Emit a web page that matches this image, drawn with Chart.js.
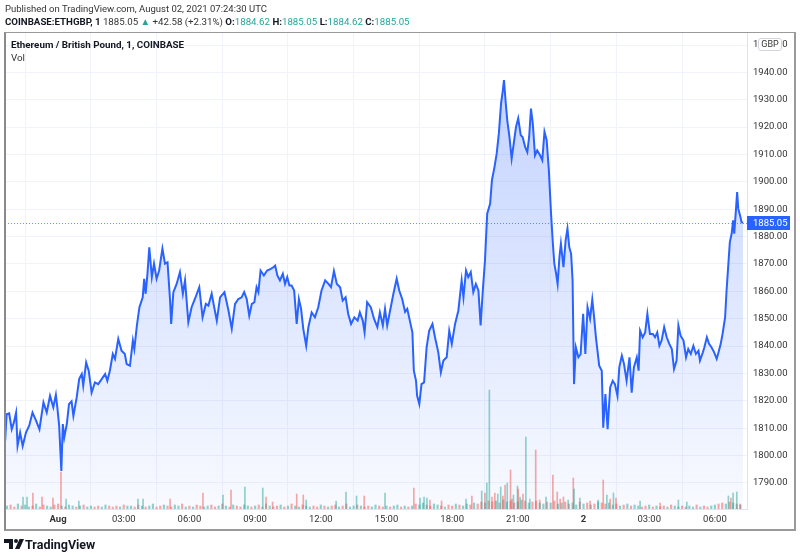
<!DOCTYPE html>
<html><head><meta charset="utf-8">
<script src="https://cdn.jsdelivr.net/npm/chart.js@4.4.0/dist/chart.umd.min.js"></script>
<style>
html,body{margin:0;padding:0;background:#fff;}
#wrap{position:relative;width:800px;height:558px;overflow:hidden;font-family:Roboto,"Noto Sans",sans-serif;color:#131722;background:#fff;}
#c{position:absolute;left:0;top:0;}
.txt{position:absolute;white-space:nowrap;}
#h1{left:5px;top:3px;font-size:9.5px;color:#333;}
#h2{left:5px;top:16px;font-size:9.7px;color:#333;}
#h2 b{color:#131722;}
.t{color:#26a69a;}
#title{left:11px;top:39px;font-size:9.8px;font-weight:bold;}
#vol{left:11px;top:52px;font-size:9.8px;color:#333;}
#frame{position:absolute;left:4px;top:32px;width:792px;height:499px;border:1px solid #9a9a9a;border-left:2px solid #8a8a8a;border-bottom:2px solid #9a9a9a;border-right:2px solid #9a9a9a;box-sizing:border-box;pointer-events:none;}
#gbp{position:absolute;left:758px;top:38px;width:24px;height:13px;border:1px solid #d1d4dc;border-radius:3px;background:#fff;font-size:9px;line-height:11px;text-align:center;color:#333;box-sizing:border-box;}
#logo{position:absolute;left:4px;top:539px;}
#brand{left:25px;top:537px;font-size:12.5px;font-weight:bold;color:#131722;}
</style></head>
<body>
<div id="wrap">
<canvas id="c" width="800" height="558"></canvas>
<div class="txt" id="h1">Published on TradingView.com, August 02, 2021 07:24:30 UTC</div>
<div class="txt" id="h2"><b>COINBASE:ETHGBP, 1</b> 1885.05 <span class="t">▲</span> +42.58 (+2.31%) <b>O:</b><span class="t">1884.62</span> <b>H:</b><span class="t">1885.05</span> <b>L:</b><span class="t">1884.62</span> <b>C:</b><span class="t">1885.05</span></div>
<div class="txt" id="title">Ethereum / British Pound, 1, COINBASE</div>
<div class="txt" id="vol">Vol</div>
<div id="frame"></div>
<div id="gbp">GBP</div>
<svg id="logo" width="20" height="11" viewBox="0 0 20 11"><path d="M0 0H9V10H5V4H0Z" fill="#131722"/><circle cx="12" cy="2" r="2" fill="#131722"/><path d="M15.5 0H20L15.5 10H11Z" fill="#131722"/></svg>
<div class="txt" id="brand">TradingView</div>
</div>
<script>
// minutes relative to 2021-08-01 00:00 UTC
const priceMinutes = [
-145,-141,-134,-127,-121,-115,-111,-104,-97,-88,
-79,-70,-60,-51,-40,-31,-22,-13,-6,-2,
3,9,13,17,24,30,37,42,51,58,
65,69,77,84,92,101,110,120,129,135,
142,150,156,165,174,183,188,197,205,209,
216,223,232,236,240,245,250,257,263,270,
277,286,293,300,307,310,316,325,334,342,
348,357,366,375,387,396,405,412,421,427,
435,444,456,467,476,485,494,503,510,517,
524,531,538,544,549,555,564,573,583,590,
595,601,608,616,622,628,634,640,647,654,
660,666,672,680,686,695,704,713,722,732,
741,748,756,764,773,780,788,795,803,812,
821,827,835,840,847,857,866,875,882,890,
896,902,910,919,928,935,943,951,957,964,
971,975,981,984,990,996,1003,1010,1017,1026,
1033,1042,1049,1056,1065,1072,1079,1088,1097,1106,
1111,1118,1124,1131,1138,1145,1152,1158,1164,1170,
1176,1184,1189,1196,1202,1208,1214,1219,1222,1227,
1231,1237,1243,1250,1255,1261,1268,1273,1280,1286,
1291,1296,1301,1307,1313,1321,1327,1333,1339,1345,
1351,1356,1360,1365,1369,1374,1378,1385,1391,1396,
1401,1406,1410,1414,1419,1426,1432,1439,1445,1451,
1458,1464,1469,1474,1483,1490,1494,1500,1506,1513,
1520,1526,1533,1538,1545,1551,1558,1566,1572,1578,
1586,1591,1595,1602,1609,1615,1622,1630,1636,1642,
1648,1654,1661,1668,1675,1682,1688,1695,1700,1706,
1714,1721,1727,1734,1741,1748,1755,1759,1767,1771,
1778,1784,1791,1798,1805,1810,1816,1821,1828,1832,
1837,1841,1846,1850,1853,1857,1861,1864,1869,1873,
1877];
const priceValues = [
1805.4,1815.1,1815.4,1809.6,1812.1,1815.7,1803.5,1808.4,1803.5,1808.4,
1810.9,1815.7,1812.7,1809.6,1819.4,1815.7,1821.8,1817.6,1822.2,1817.6,
1810.9,1794.4,1811.5,1806.6,1811.5,1818.8,1819.8,1814.5,1821.2,1828.0,
1829.8,1825.5,1834.0,1831.0,1823.0,1826.7,1826.1,1828.0,1829.8,1827.3,
1831.0,1837.1,1835.3,1842.6,1838.3,1837.1,1833.4,1832.8,1842.0,1838.9,
1847.5,1854.2,1857.8,1864.6,1859.1,1866.4,1876.1,1865.2,1870.1,1864.6,
1867.6,1875.6,1870.1,1870.6,1856.6,1848.1,1859.7,1862.7,1867.0,1859.1,
1864.0,1848.7,1854.2,1857.2,1861.5,1850.5,1855.4,1854.8,1859.1,1854.8,
1849.3,1857.8,1859.7,1853.0,1846.3,1855.4,1857.2,1857.8,1859.7,1857.2,
1851.1,1855.4,1856.0,1861.5,1859.7,1867.6,1865.8,1867.6,1868.2,1868.8,
1869.4,1865.8,1864.0,1866.4,1862.7,1865.2,1862.1,1862.1,1860.3,1848.1,
1857.2,1853.6,1846.3,1840.1,1846.9,1852.3,1850.5,1854.2,1860.3,1864.0,
1862.7,1861.5,1867.4,1862.7,1861.5,1856.6,1857.8,1851.8,1848.1,1850.5,
1849.3,1852.3,1849.3,1845.0,1856.0,1854.2,1849.9,1846.9,1852.3,1847.5,
1853.6,1847.5,1853.0,1859.1,1864.6,1860.3,1857.2,1852.5,1853.6,1849.3,
1845.0,1831.0,1827.3,1821.8,1818.8,1826.1,1826.7,1839.5,1845.6,1848.1,
1843.2,1837.7,1830.4,1834.7,1835.9,1845.6,1840.8,1848.1,1853.0,1864.0,
1857.8,1867.6,1865.2,1867.0,1859.7,1862.7,1860.3,1847.5,1860.3,1871.3,
1888.4,1892.0,1900.6,1905.4,1910.3,1917.7,1928.6,1933.5,1937.2,1928.6,
1922.5,1916.4,1908.5,1915.2,1920.1,1923.2,1917.0,1916.4,1912.8,1910.9,
1916.4,1926.8,1921.3,1909.7,1911.5,1909.7,1907.9,1918.3,1915.2,1904.2,
1888.4,1877.4,1870.1,1866.4,1862.7,1872.5,1877.4,1868.8,1878.6,1882.9,
1876.1,1873.7,1864.0,1826.1,1839.5,1835.9,1837.0,1851.8,1837.1,1854.2,
1850.0,1857.0,1850.5,1843.2,1832.8,1831.0,1810.2,1822.5,1809.6,1824.9,
1827.3,1826.1,1821.8,1832.2,1836.5,1833.4,1827.3,1835.9,1823.0,1832.2,
1835.9,1831.0,1845.6,1843.2,1845.0,1851.8,1844.4,1844.4,1843.2,1845.0,
1840.1,1842.0,1846.9,1843.2,1840.8,1838.9,1831.6,1834.7,1847.5,1843.8,
1842.0,1835.9,1838.9,1837.1,1840.1,1837.1,1838.3,1834.7,1837.7,1839.5,
1843.2,1840.8,1839.5,1837.7,1835.3,1837.7,1840.8,1844.4,1850.5,1860.3,
1870.1,1878.0,1881.1,1885.9,1881.1,1888.4,1896.3,1890.2,1887.7,1885.3,
1885.05];
const lastPrice = 1885.05;

// background volume, one bar per 10 minutes starting at -140
const volBaseStart = -140;
const volBaseStep = 10;
const volBaseValues = [
3,4,2,5,3,4,2,3,5,2,4,3,2,4,
5,3,2,4,3,2,3,4,2,3, 2,3,2,4,3,2,3,2,4,3, 3,2,4,3,2,3,5,2,3,4,
3,2,4,3,5,2,3,2,4,3, 2,3,4,2,3,5,3,2,4,3, 2,4,3,2,3,4,2,5,3,2,
3,4,2,3,5,3,2,4,3,2, 3,2,4,3,2,3,4,2,3,5, 2,3,4,3,2,3,2,4,3,2,
3,2,3,4,2,3,2,3,5,4, 6,4,3,5,4,3,2,4,3,5, 4,3,5,4,6,5,7,6,8,7,
8,6,9,7,8,6,7,9,8,6, 7,8,6,5,7,6,8,5,6,7, 5,6,4,7,5,6,4,5,7,6,
5,6,4,5,3,4,5,3,4,3, 2,3,4,2,3,2,3,2,4,3, 2,3,2,3,2,4,2,3,2,3,
4,5,6,5,7,6,5,4];
const volBaseDir = "udduduudud duudduduud uduudduudd duduuddudu uddudduudu dudduuddud ududduudud duuddududu uduuddudud dudduududd uudduduudu duduudduud udduduudud dudduduudd uududduudu duudduudud ududduudud uduuddudud duduudduud udduuddudu duduudduud".replace(/ /g,'');

// volume spikes
const spikeMinutes = [-96,-85,-69,-44,-14,8,22,57,219,233,307,397,452,474,512,561,570,588,654,672,680,762,789,818,839,896,975,992,1003,1011,1019,1051,1118,1134,1161,1170,1175,1182,1189,1197,1205,1213,1219,1225,1231,1240,1244,1248,1259,1261,1266,1274,1282,1293,1309,1320,1337,1356,1368,1376,1385,1398,1412,1414,1430,1458,1480,1494,1504,1513,1522,1529,1595,1650,1700,1723,1837,1844,1850,1860,1869];
const spikeValues = [12,12,16,12,11,37,10,8,10,10,10,16,14,19,22,21,12,7,15,14,9,8,17,13,13,16,21,11,12,11,9,8,10,13,18,16,26,119,12,16,15,22,13,24,26,39,10,14,23,20,12,15,72,10,59,9,12,34,17,10,12,9,31,20,11,8,9,29,14,10,16,11,8,6,9,7,13,11,16,17,5];
const spikeDir = "uuddd duuuu ddudu udddd uuuud uduuu ddudu duudd uuddu dduud uduud duddd duduu dudud ududu uuduu d".replace(/ /g,'');

const timeTickMinutes = [0,180,360,540,720,900,1080,1260,1440,1620,1800];
const timeTickLabels = ['Aug','03:00','06:00','09:00','12:00','15:00','18:00','21:00','2','03:00','06:00'];
const boldTicks = ['Aug','2'];

const X_MIN = -145.4, X_MAX = 1888.0;
const Y_MIN = 1780.46, Y_MAX = 1954.39;

const UP = 'rgba(38,166,154,0.5)', DOWN = 'rgba(239,83,80,0.5)';

const priceData = priceMinutes.map((m,i)=>({x:m, y:priceValues[i]}));
const baseData = volBaseValues.map((v,i)=>({x:volBaseStart+i*volBaseStep, y:v}));
const baseColors = volBaseValues.map((v,i)=> volBaseDir[i]==='u' ? UP : DOWN);
const spikeData = spikeMinutes.map((m,i)=>({x:m, y:spikeValues[i]}));
const spikeColors = spikeMinutes.map((m,i)=> spikeDir[i]==='u' ? UP : DOWN);

const priceLinePlugin = {
  id:'priceLine',
  beforeDatasetsDraw(chart){
    const {ctx, chartArea} = chart;
    const y = chart.scales.y.getPixelForValue(lastPrice);
    ctx.save();
    ctx.strokeStyle = 'rgba(41,98,255,0.7)';
    ctx.lineWidth = 1;
    ctx.setLineDash([1,2]);
    ctx.beginPath();
    ctx.moveTo(chartArea.left, Math.round(y)+0.5);
    ctx.lineTo(chartArea.right, Math.round(y)+0.5);
    ctx.stroke();
    ctx.restore();
  },
  afterDraw(chart){
    const {ctx, chartArea} = chart;
    const y = Math.round(chart.scales.y.getPixelForValue(lastPrice));
    ctx.save();
    ctx.fillStyle = '#2962ff';
    ctx.fillRect(chartArea.right, y-7, 43, 14);
    ctx.fillStyle = '#fff';
    ctx.font = '9.5px Roboto, "Noto Sans", sans-serif';
    ctx.textBaseline = 'middle';
    ctx.textAlign = 'left';
    ctx.fillText(lastPrice.toFixed(2), chartArea.right+6, y+0.5);
    ctx.restore();
  }
};

new Chart(document.getElementById('c'), {
  type:'line',
  data:{datasets:[
    {type:'line', data:priceData, borderColor:'#2962ff', borderWidth:2, pointRadius:0, tension:0,
     fill:'start', order:0, yAxisID:'y',
     backgroundColor:(c)=>{
       const ch=c.chart; const a=ch.chartArea; if(!a) return 'rgba(41,98,255,0.1)';
       const g=ch.ctx.createLinearGradient(0,a.top,0,a.bottom);
       g.addColorStop(0,'rgba(41,98,255,0.30)');
       g.addColorStop(1,'rgba(41,98,255,0.03)');
       return g;
     }},
    {type:'bar', data:baseData, backgroundColor:baseColors, barThickness:1.5, grouped:false, order:2, yAxisID:'yv'},
    {type:'bar', data:spikeData, backgroundColor:spikeColors, barThickness:1, grouped:false, order:1, yAxisID:'yv'}
  ]},
  options:{
    responsive:false, animation:false, devicePixelRatio:1,
    layout:{padding:{left:5, top:33, right:5, bottom:28}},
    plugins:{legend:{display:false}, tooltip:{enabled:false}, filler:{drawTime:'beforeDatasetsDraw'}},
    scales:{
      x:{type:'linear', min:X_MIN, max:X_MAX, offset:false,
         afterBuildTicks:(s)=>{ s.ticks = timeTickMinutes.map(v=>({value:v})); },
         afterFit:(s)=>{ s.height = 21; },
         ticks:{autoSkip:false, maxRotation:0, padding:5, color:'#333',
           callback:(v)=> timeTickLabels[timeTickMinutes.indexOf(v)],
           font:(c)=>{ const lbl = c.tick ? timeTickLabels[timeTickMinutes.indexOf(c.tick.value)] : ''; return {family:'Roboto', size:9.5, weight: boldTicks.includes(lbl)?'bold':'normal'}; }},
         grid:{color:'#f0f3fa', drawTicks:false},
         border:{color:'#e0e3eb'}},
      y:{position:'right', min:Y_MIN, max:Y_MAX,
         afterFit:(s)=>{ s.width = 48; },
         ticks:{stepSize:10, includeBounds:false, padding:6, color:'#333', font:{family:'Roboto', size:9.5},
           callback:(v)=> Number(v).toFixed(2)},
         grid:{color:'#f0f3fa', drawTicks:false},
         border:{color:'#e0e3eb'}},
      yv:{display:false, min:0, max:476}
    }
  },
  plugins:[priceLinePlugin]
});
</script>
</body></html>
